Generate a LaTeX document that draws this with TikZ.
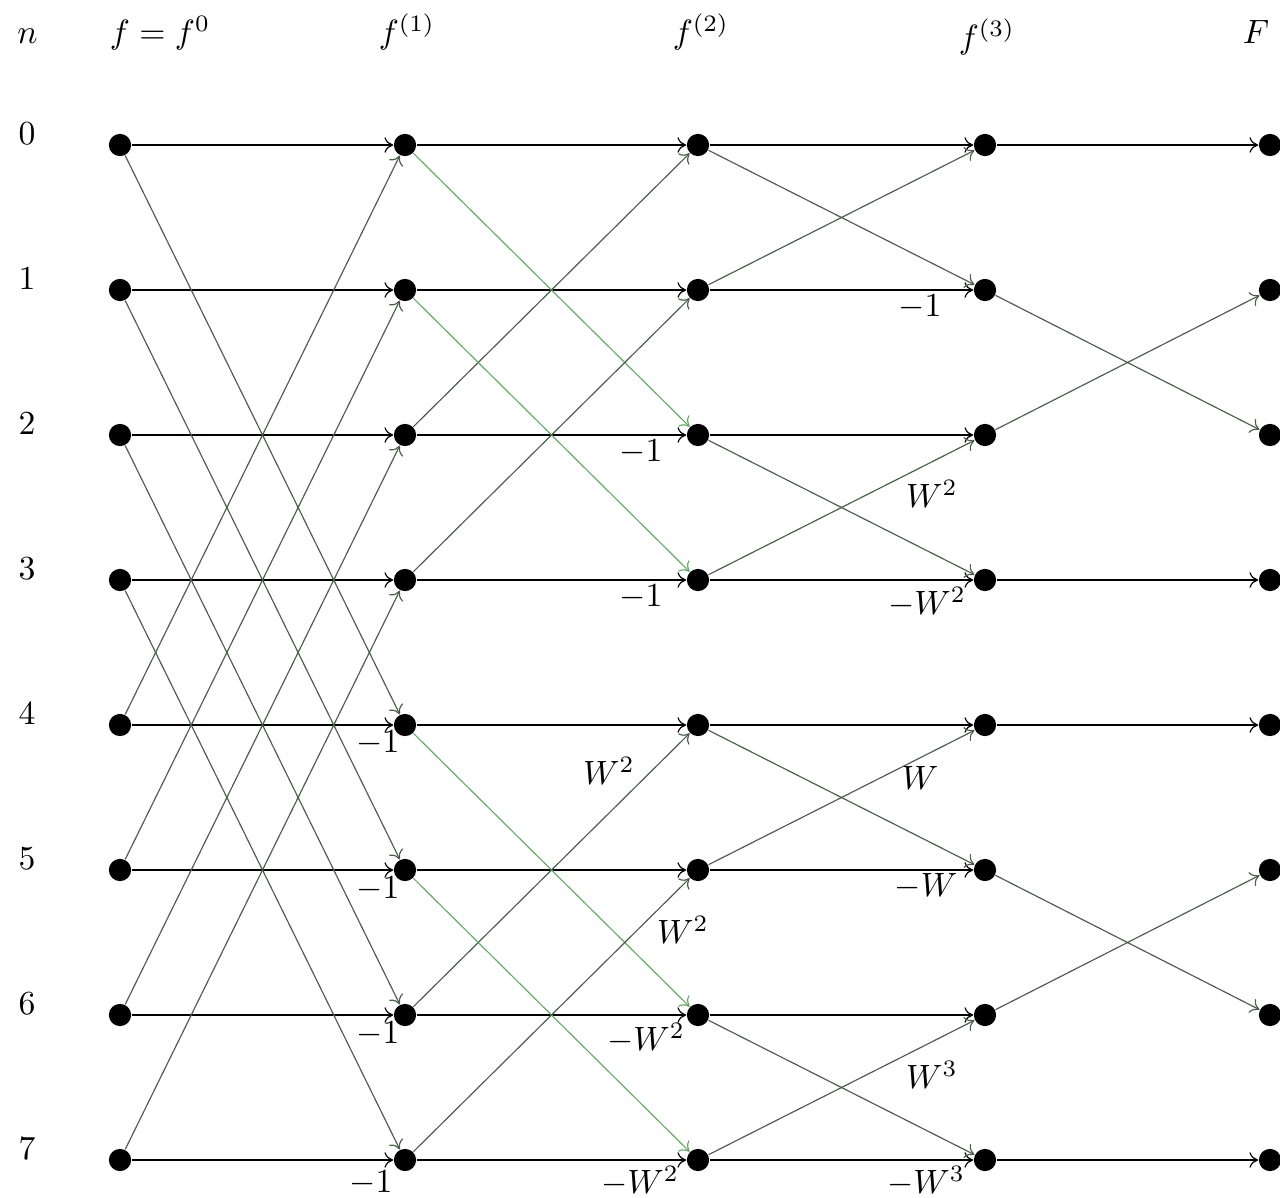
\documentclass[tikz,border=0pt]{standalone}
\usetikzlibrary{arrows.meta}
\definecolor{crossdark}{RGB}{75,95,75}
\definecolor{crossgreen}{RGB}{105,170,105}
\begin{document}
\begin{tikzpicture}[x=0.01044cm,y=-0.01044cm,
  >={To[length=2.6pt,width=4.6pt]},
  dot/.style={circle,fill=black,inner sep=0pt,minimum size=6.6pt},
  hor/.style={-{To[length=2.6pt,width=4.6pt,line width=0.35pt]},draw=black,line width=0.6pt},
  crs/.style={->,draw=crossdark,line width=0.35pt},
  crsg/.style={->,draw=crossgreen,line width=0.35pt},
  lab/.style={inner sep=0pt},
  head/.style={inner sep=0pt,anchor=base}]
\useasboundingbox (0,0) rectangle (1280,1198);
% column headers
\node[head] (hn) at (27.5,43) {$n$};
\node[head] (h0) at (160,43.5) {$f = f^0$};
\node[head] (h1) at (407,43.5) {$f^{(1)}$};
\node[head] (h2) at (701,43.5) {$f^{(2)}$};
\node[head] (h3) at (987,48.5) {$f^{(3)}$};
\node[head] (h4) at (1256,43) {$F$};
% row labels
\foreach \r in {0,...,7}
  \node[head] (rl\r) at (27,{144+145*\r}) {$\r$};
% nodes
\foreach \c/\x in {0/120,1/405,2/698,3/985,4/1270}
  \foreach \r in {0,...,7}
    \node[dot] (n\c-\r) at (\x,{145+145*\r}) {};
% horizontal edges
\foreach \r in {0,...,7} {
  \draw[hor] (n0-\r) -- (n1-\r);
  \draw[hor] (n1-\r) -- (n2-\r);
  \draw[hor] (n2-\r) -- (n3-\r);
}
\foreach \r in {0,3,4,7}
  \draw[hor] (n3-\r) -- (n4-\r);
% stage 0 -> 1
\foreach \a/\b in {0/4,1/5,2/6,3/7} {
  \draw[crs] (n0-\a) -- (n1-\b);
  \draw[crs] (n0-\b) -- (n1-\a);
}
% stage 1 -> 2
\foreach \a/\b in {0/2,1/3,4/6,5/7} {
  \draw[crsg] (n1-\a) -- (n2-\b);
  \draw[crs] (n1-\b) -- (n2-\a);
}
% stage 2 -> 3
\foreach \a/\b in {0/1,2/3,4/5,6/7} {
  \draw[crs] (n2-\a) -- (n3-\b);
  \draw[crs] (n2-\b) -- (n3-\a);
}
% stage 3 -> 4
\foreach \a/\b in {1/2,5/6} {
  \draw[crs] (n3-\a) -- (n4-\b);
  \draw[crs] (n3-\b) -- (n4-\a);
}
% edge labels
\node[lab] (l1a) at (378,743.5) {$-1$};
\node[lab] (l1b) at (378,889) {$-1$};
\node[lab] (l1c) at (378,1034) {$-1$};
\node[lab] (l1d) at (371,1183) {$-1$};
\node[lab] (l2a) at (641,452) {$-1$};
\node[lab] (l2b) at (641,597) {$-1$};
\node[lab] (l2c) at (609,771) {$W^2$};
\node[lab] (l2d) at (683,930) {$W^2$};
\node[lab] (l2e) at (646,1038) {$-W^2$};
\node[lab] (l2f) at (640,1181) {$-W^2$};
\node[lab] (l3a) at (920,307) {$-1$};
\node[lab] (l3b) at (932,494) {$W^2$};
\node[lab] (l3c) at (927,602) {$-W^2$};
\node[lab] (l3d) at (920,778) {$W$};
\node[lab] (l3e) at (926,886) {$-W$};
\node[lab] (l3f) at (932,1075) {$W^3$};
\node[lab] (l3g) at (926,1181) {$-W^3$};
\end{tikzpicture}
\end{document}
